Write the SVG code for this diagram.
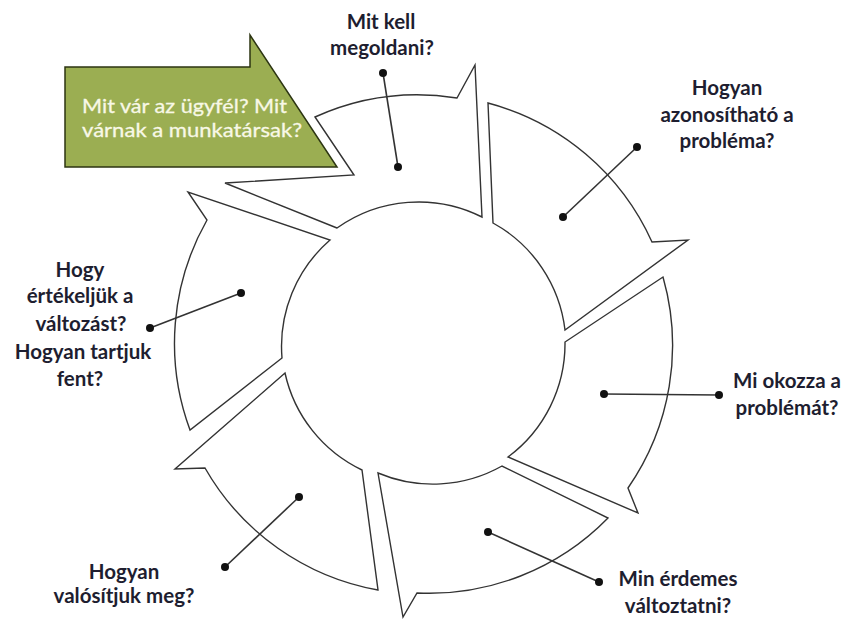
<svg xmlns="http://www.w3.org/2000/svg" width="845" height="619" viewBox="0 0 845 619">
<style>
.seg{fill:#fff;stroke:#333;stroke-width:1.4;stroke-linejoin:miter}
.lbl{font-family:Lato,"Open Sans","Liberation Sans",sans-serif;font-weight:bold;font-size:20.5px;fill:#1e1e30;text-anchor:middle}
.grn{font-family:Lato,"Open Sans","Liberation Sans",sans-serif;font-size:20px;fill:#f8f8e6;stroke:#f8f8e6;stroke-width:0.3}
.lead{stroke:#333;stroke-width:1.6;fill:none}
.dot{fill:#111}
</style>
<rect width="845" height="619" fill="#fff"/>
<g id="seg-a"><path class="seg" d="M337,228 L225,183 L354,175 L315,117 A250,250 0 0 1 457,98 L475,65 L482,217 A141,141 0 0 0 337,228 Z"/></g>
<g id="seg-b"><path class="seg" d="M488,103 A250,250 0 0 1 652,242 L688,240 L565,330 A141,141 0 0 0 493,223 Z"/></g>
<g id="seg-c"><path class="seg" d="M663,277 A250,250 0 0 1 628,488 L638,513 L508,457 A141,141 0 0 0 565,342 Z"/></g>
<g id="seg-d"><path class="seg" d="M608,518 A250,250 0 0 1 417,593 L403,617 L378,473 A141,141 0 0 0 502,466 Z"/></g>
<g id="seg-e"><path class="seg" d="M378,590 A250,250 0 0 1 205,468 L175,469 L285,373 A141,141 0 0 0 362,470 Z"/></g>
<g id="seg-f"><path class="seg" d="M190,430 A250,250 0 0 1 207,220 L188,192 L330,240 A141,141 0 0 0 282,358 Z"/></g>
<g id="green-arrow">
<polygon points="65,67 250,67 250,35 337,167 65,167" fill="#9bae52" stroke="#2c3512" stroke-width="1.5"/>
<text class="grn" x="82" y="113" textLength="205" lengthAdjust="spacingAndGlyphs">Mit vár az ügyfél? Mit</text>
<text class="grn" x="82" y="137" textLength="220" lengthAdjust="spacingAndGlyphs">várnak a munkatársak?</text>
</g>
<g id="connectors">
<line class="lead" x1="383" y1="73" x2="398" y2="167"/>
<circle class="dot" cx="383" cy="73" r="4"/><circle class="dot" cx="398" cy="167" r="4"/>
<line class="lead" x1="637" y1="147" x2="563" y2="217"/>
<circle class="dot" cx="637" cy="147" r="4"/><circle class="dot" cx="563" cy="217" r="4"/>
<line class="lead" x1="604" y1="394" x2="719" y2="395"/>
<circle class="dot" cx="604" cy="394" r="4"/><circle class="dot" cx="719" cy="395" r="4"/>
<line class="lead" x1="488" y1="532" x2="599" y2="582"/>
<circle class="dot" cx="488" cy="532" r="4"/><circle class="dot" cx="599" cy="582" r="4"/>
<line class="lead" x1="299" y1="497" x2="225" y2="567"/>
<circle class="dot" cx="299" cy="497" r="4"/><circle class="dot" cx="225" cy="567" r="4"/>
<line class="lead" x1="241" y1="293" x2="150" y2="328"/>
<circle class="dot" cx="241" cy="293" r="4"/><circle class="dot" cx="150" cy="328" r="4"/>
</g>
<g id="label-top">
<text class="lbl" x="381" y="29">Mit kell</text>
<text class="lbl" x="382" y="55">megoldani?</text>
</g>
<g id="label-topright">
<text class="lbl" x="727" y="95">Hogyan</text>
<text class="lbl" x="727" y="122">azonosítható a</text>
<text class="lbl" x="727" y="148">probléma?</text>
</g>
<g id="label-right">
<text class="lbl" x="787" y="388">Mi okozza a</text>
<text class="lbl" x="787" y="415">problémát?</text>
</g>
<g id="label-bottomright">
<text class="lbl" x="678" y="586">Min érdemes</text>
<text class="lbl" x="678" y="613">változtatni?</text>
</g>
<g id="label-bottomleft">
<text class="lbl" x="124" y="579">Hogyan</text>
<text class="lbl" x="124" y="603">valósítjuk meg?</text>
</g>
<g id="label-left">
<text class="lbl" x="80" y="277">Hogy</text>
<text class="lbl" x="80" y="303">értékeljük a</text>
<text class="lbl" x="81" y="331">változást?</text>
<text class="lbl" x="83" y="359">Hogyan tartjuk</text>
<text class="lbl" x="80" y="386">fent?</text>
</g>
</svg>
